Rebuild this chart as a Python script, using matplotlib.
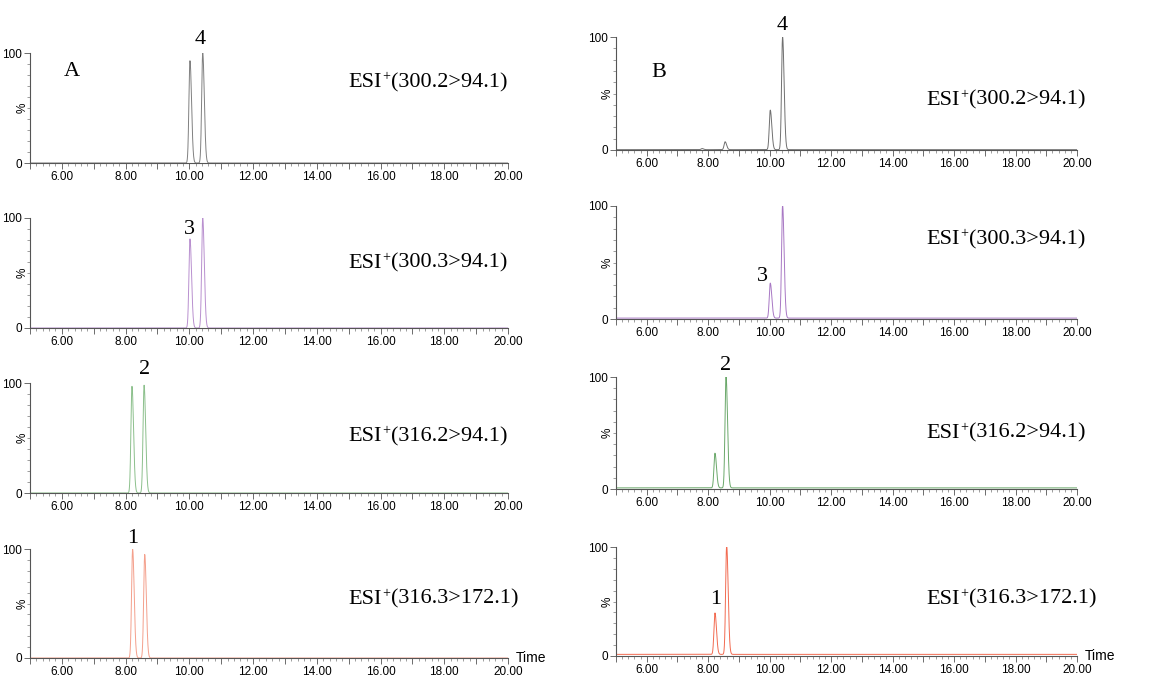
import numpy as np
import matplotlib
matplotlib.use("Agg")
import matplotlib.pyplot as plt
from matplotlib.ticker import MultipleLocator, FuncFormatter

# ---- data ----
transitions = ["(300.2>94.1)", "(300.3>94.1)", "(316.2>94.1)", "(316.3>172.1)"]
ion_prefix = "ESI"
ion_sign = "+"
peak_labels = ["4", "3", "2", "1"]
colors_A = ["#808080", "#b990cf", "#8cc08c", "#f4a08c"]
colors_B = ["#707070", "#a878c4", "#6aa86a", "#f26a50"]

# panel A: retention times (min), relative heights (%)
A_rt = [[10.02, 10.42], [10.02, 10.42], [8.20, 8.58], [8.22, 8.60]]
A_h = [[93, 100], [81, 100], [97, 98], [100, 95]]
# panel B
B_rt = [[7.80, 8.55, 10.02, 10.42], [10.02, 10.42], [8.22, 8.58], [8.22, 8.60]]
B_h = [[1, 7, 35, 100], [31, 100], [31, 100], [38, 100]]
B_baseline = [0.3, 0.8, 1.0, 1.5]
peak_sigma = 0.033

x_label_every = 2

# ---- layout (pixels) ----
W, H = 1164, 676
fig = plt.figure(figsize=(W / 100, H / 100), dpi=100)
tick_font = ["Liberation Sans Narrow", "Liberation Sans", "DejaVu Sans"]
serif = ["Liberation Serif", "DejaVu Serif"]

left_rows = [(53, 163), (218, 328), (383, 493), (549, 658)]
right_rows = [(37, 150), (206, 319), (377, 489), (547, 656)]
left_x = (30, 508)
right_x = (616, 1077)

A_text_y = [73, 59, 51, 54]
B_text_y = [44, 70, 50, 52]
A_lab_pos = [(10.33, 112), (9.99, 90), (8.60, 112), (8.23, 110)]
B_lab_pos = [(10.40, 110), (9.78, 38), (8.55, 110), (8.25, 52)]

t = np.linspace(5, 20, 6000)


def trace(rts, hs, base):
    y = np.full_like(t, base)
    for r, h in zip(rts, hs):
        s = np.where(t < r, peak_sigma, peak_sigma * 1.5)
        y += h * np.exp(-0.5 * ((t - r) / s) ** 2)
    return y


def fmt(v, pos):
    iv = int(round(v))
    return "%.2f" % v if iv % x_label_every == 0 and iv > 5 else ""


def make_ax(xpx, ypx, pct_off):
    x0, x1 = xpx
    ytop, ybot = ypx
    ax = fig.add_axes([x0 / W, 1 - ybot / H, (x1 - x0) / W, (ybot - ytop) / H])
    ax.set_xlim(5, 20)
    ax.set_ylim(0, 100)
    for s in ["top", "right"]:
        ax.spines[s].set_visible(False)
    for s in ["left", "bottom"]:
        ax.spines[s].set_color("#555555")
        ax.spines[s].set_linewidth(0.8)
    ax.xaxis.set_major_locator(MultipleLocator(1))
    ax.xaxis.set_major_formatter(FuncFormatter(fmt))
    ax.xaxis.set_minor_locator(MultipleLocator(0.2))
    ax.set_yticks([0, 100])
    ax.set_yticklabels(["0", "100"])
    ax.yaxis.set_minor_locator(MultipleLocator(10))
    ax.tick_params(axis="both", which="major", length=4, width=0.6, color="#555555",
                   labelsize=8.5, pad=1.5)
    ax.tick_params(axis="both", which="minor", length=2, width=0.5, color="#777777")
    for lab in ax.get_xticklabels() + ax.get_yticklabels():
        lab.set_family(tick_font)
    ax.text(pct_off, 0.5, "%", transform=ax.transAxes, rotation=90, ha="center",
            va="center", fontsize=8.5, family=tick_font)
    return ax


def ion_label(ax, x, y, rest):
    t1 = ax.text(x, y, ion_prefix, fontsize=16, family=serif, ha="left", va="center")
    plus = ax.annotate(ion_sign, xy=(1, 0), xycoords=t1, xytext=(0.3, 8.5),
                       textcoords="offset points", fontsize=10, family=serif,
                       ha="left", va="baseline")
    ax.annotate(rest, xy=(1, 0), xycoords=(plus, t1), xytext=(0.3, 0),
                textcoords="offset points", fontsize=16, family=serif,
                ha="left", va="bottom")


for i in range(4):
    ax = make_ax(left_x, left_rows[i], -0.016)
    ax.plot(t, trace(A_rt[i], A_h[i], 0.0), color=colors_A[i], lw=0.7)
    ion_label(ax, 15.0, A_text_y[i], transitions[i])
    ax.text(A_lab_pos[i][0], A_lab_pos[i][1], peak_labels[i], fontsize=16,
            family=serif, ha="center", va="center", clip_on=False)
    if i == 0:
        ax.text(6.32, 83, "A", fontsize=16, family=serif, ha="center", va="center")
    if i == 3:
        ax.text(20.25, 0, "Time", fontsize=10, family=tick_font, ha="left",
                va="center", clip_on=False)

    bx = make_ax(right_x, right_rows[i], -0.018)
    bx.plot(t, trace(B_rt[i], B_h[i], B_baseline[i]), color=colors_B[i], lw=0.7)
    ion_label(bx, 15.1, B_text_y[i], transitions[i])
    bx.text(B_lab_pos[i][0], B_lab_pos[i][1], peak_labels[i], fontsize=16,
            family=serif, ha="center", va="center", clip_on=False)
    if i == 0:
        bx.text(6.4, 69, "B", fontsize=16, family=serif, ha="center", va="center")
    if i == 3:
        bx.text(20.25, 0, "Time", fontsize=10, family=tick_font, ha="left",
                va="center", clip_on=False)

fig.savefig("out.png", dpi=100, facecolor="white")
